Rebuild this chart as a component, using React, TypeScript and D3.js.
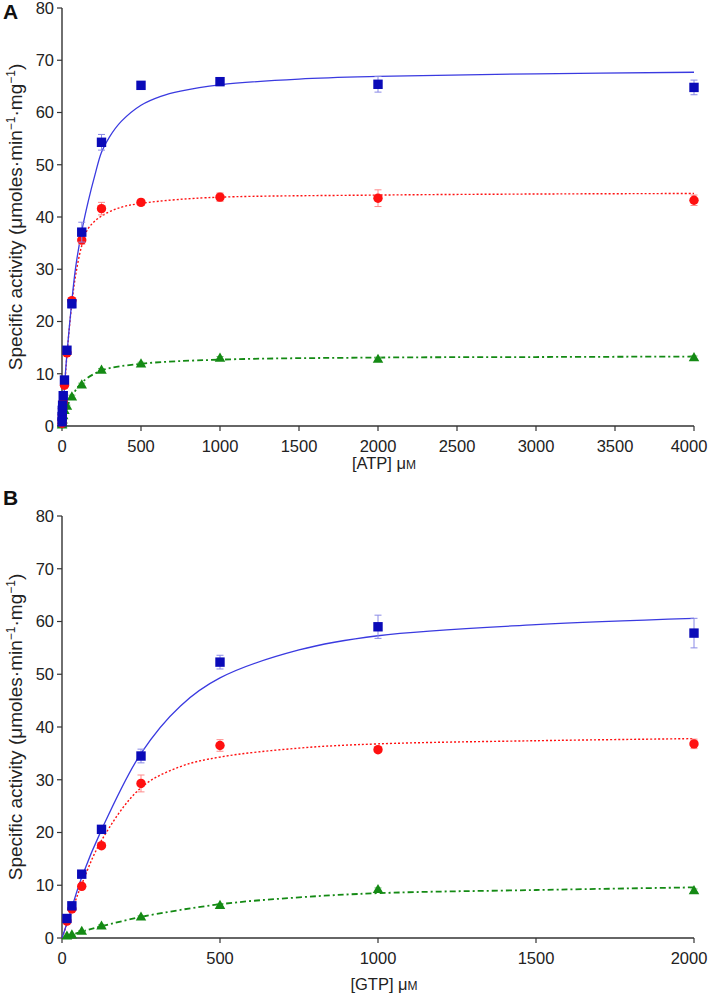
import React from "react";
import * as d3 from "d3";

// ---------- Panel A: ATP ----------
const ATP_X = [0.49, 0.98, 1.95, 3.9, 7.8, 15.6, 31.25, 62.5, 125, 250, 500, 1000, 2000, 4000];
const ATP_BLUE = [0.8, 1.8, 3.0, 4.0, 5.8, 8.8, 14.5, 23.4, 37.1, 54.3, 65.2, 65.9, 65.4, 64.8];
const ATP_BLUE_ERR = [0.3, 0.3, 0.3, 0.3, 0.5, 0.6, 0.6, 0.8, 1.9, 1.5, 0.5, 0.5, 1.5, 1.4];
const ATP_RED = [0.5, 1.2, 2.0, 3.4, 4.6, 7.8, 14.0, 24.0, 35.6, 41.6, 42.8, 43.8, 43.6, 43.2];
const ATP_RED_ERR = [0.2, 0.2, 0.2, 0.3, 0.3, 0.4, 0.5, 0.6, 0.8, 1.2, 0.6, 0.8, 1.6, 1.0];
const ATP_GREEN = [0.2, 0.4, 0.7, 1.2, 2.0, 3.0, 3.8, 5.6, 7.9, 10.7, 11.9, 13.0, 12.8, 13.1];
const ATP_GREEN_ERR = [0.1, 0.1, 0.1, 0.1, 0.2, 0.2, 0.2, 0.3, 0.3, 0.3, 0.3, 0.3, 0.3, 0.3];

const ATP_BLUE_FIT_X = [0, 15.6, 31.25, 62.5, 87, 125, 166, 209, 250, 300, 375, 500, 625, 750, 1000, 1500, 2000, 3000, 4000];
const ATP_BLUE_FIT_Y = [0, 7.5, 13.8, 24, 30.5, 37.3, 43, 48.1, 52.4, 55.3, 58.3, 61.4, 63.1, 64.1, 65.3, 66.4, 66.9, 67.4, 67.7];
const ATP_RED_FIT_X = [0, 15.6, 31.25, 62.5, 87, 125, 166, 251, 378, 500, 715, 1000, 2000, 3000, 4000];
const ATP_RED_FIT_Y = [0, 7, 13.5, 23.5, 29, 34.5, 37.8, 40.2, 41.9, 42.6, 43.3, 43.8, 44.2, 44.4, 44.5];
const ATP_GREEN_FIT_X = [0, 31.25, 62.5, 125, 250, 500, 1000, 2000, 3000, 4000];
const ATP_GREEN_FIT_Y = [0, 3.5, 5.6, 8.3, 10.6, 11.9, 12.7, 13.1, 13.2, 13.3];

const ATP_X_TICKS = [0, 500, 1000, 1500, 2000, 2500, 3000, 3500, 4000];

// ---------- Panel B: GTP ----------
const GTP_X = [15.6, 31.25, 62.5, 125, 250, 500, 1000, 2000];
const GTP_BLUE = [3.7, 6.1, 12.1, 20.6, 34.5, 52.3, 59.0, 57.8];
const GTP_BLUE_ERR = [0.3, 0.4, 0.6, 0.5, 1.3, 1.3, 2.2, 2.8];
const GTP_RED = [3.2, 5.5, 9.8, 17.5, 29.3, 36.5, 35.7, 36.8];
const GTP_RED_ERR = [0.2, 0.3, 0.5, 0.4, 1.6, 1.1, 0.5, 0.9];
const GTP_GREEN = [0.4, 0.6, 1.3, 2.3, 4.0, 6.2, 9.2, 9.0];
const GTP_GREEN_ERR = [0.1, 0.1, 0.1, 0.2, 0.2, 0.3, 0.3, 0.3];

const GTP_BLUE_FIT_X = [0, 15.6, 31.25, 62.5, 125, 250, 375, 500, 750, 1000, 1500, 2000];
const GTP_BLUE_FIT_Y = [0, 2.8, 5.8, 11.5, 20.5, 35, 44, 49.3, 54.6, 57.3, 59.4, 60.6];
const GTP_RED_FIT_X = [0, 15.6, 31.25, 62.5, 125, 250, 375, 500, 750, 1000, 1500, 2000];
const GTP_RED_FIT_Y = [0, 2.6, 5.2, 10.2, 18.5, 28.5, 32.5, 34.3, 36, 36.8, 37.4, 37.8];
const GTP_GREEN_FIT_X = [0, 62.5, 125, 250, 500, 750, 1000, 1500, 2000];
const GTP_GREEN_FIT_Y = [0, 1.2, 2.2, 4.0, 6.4, 7.7, 8.5, 9.1, 9.6];

const GTP_X_TICKS = [0, 500, 1000, 1500, 2000];
const Y_TICKS = [0, 10, 20, 30, 40, 50, 60, 70, 80];

const FONT = "'Liberation Sans', Arial, Helvetica, sans-serif";
const AXIS_COLOR = "#333";
const BLUE = "#0a0ab8";
const BLUE_LINE = "#3a3ae0";
const RED = "#ff1010";
const GREEN = "#148a14";

type Series = {
  x: number[];
  y: number[];
  err: number[];
  fitX: number[];
  fitY: number[];
  color: string;
  lineColor: string;
  errColor: string;
  dash: string;
  width: number;
  marker: "square" | "circle" | "triangle";
};

type PanelProps = {
  letter: string;
  letterY: number;
  top: number;
  bottom: number;
  xMax: number;
  xTicks: number[];
  xLabel: string;
  xLabelY: number;
  series: Series[];
};

function Marker({ kind, cx, cy, color }: { kind: string; cx: number; cy: number; color: string }) {
  if (kind === "square") return <rect x={cx - 4.7} y={cy - 4.7} width={9.4} height={9.4} fill={color} />;
  if (kind === "circle") return <circle cx={cx} cy={cy} r={4.7} fill={color} />;
  const s = 10.5;
  const h = s * 0.87;
  return (
    <path
      d={`M${cx},${cy - h * 0.6} L${cx + s / 2},${cy + h * 0.4} L${cx - s / 2},${cy + h * 0.4} Z`}
      fill={color}
    />
  );
}

function Panel({ letter, letterY, top, bottom, xMax, xTicks, xLabel, xLabelY, series }: PanelProps) {
  const left = 62;
  const right = 694;
  const x = d3.scaleLinear().domain([0, xMax]).range([left, right]);
  const y = d3.scaleLinear().domain([0, 80]).range([bottom, top]);
  const line = d3
    .line<[number, number]>()
    .x((d) => x(d[0]))
    .y((d) => y(d[1]))
    .curve(d3.curveCatmullRom.alpha(0.5));
  const midY = (top + bottom) / 2;
  return (
    <g>
      <text x={3} y={letterY} fontFamily={FONT} fontWeight="bold" fontSize={21} fill="#111">
        {letter}
      </text>
      {/* y axis */}
      <line x1={left} x2={left} y1={top} y2={bottom} stroke={AXIS_COLOR} strokeWidth={1.4} />
      {Y_TICKS.map((t) => (
        <g key={"y" + t}>
          <line x1={left - 5} x2={left} y1={y(t)} y2={y(t)} stroke={AXIS_COLOR} strokeWidth={1.2} />
          <text
            x={left - 8}
            y={y(t)}
            dy="0.35em"
            textAnchor="end"
            fontFamily={FONT}
            fontSize={16.5}
            fill="#222"
          >
            {t}
          </text>
        </g>
      ))}
      {/* x axis */}
      <line x1={left} x2={right} y1={bottom} y2={bottom} stroke={AXIS_COLOR} strokeWidth={1.4} />
      {xTicks.map((t) => (
        <g key={"x" + t}>
          <line x1={x(t)} x2={x(t)} y1={bottom} y2={bottom + 5} stroke={AXIS_COLOR} strokeWidth={1.2} />
          <text
            x={Math.min(x(t), 689)}
            y={bottom + 26}
            textAnchor="middle"
            fontFamily={FONT}
            fontSize={16.5}
            fill="#222"
          >
            {t}
          </text>
        </g>
      ))}
      <text x={(left + right) / 2 + 6} y={xLabelY} textAnchor="middle" fontFamily={FONT} fontSize={16.5} fill="#222">
        {xLabel} μ<tspan fontSize={12}>M</tspan>
      </text>
      <text
        transform={`translate(${22},${midY}) rotate(-90)`}
        textAnchor="middle"
        fontFamily={FONT}
        fontSize={19}
        fill="#222"
      >
        Specific activity (μmoles·min
        <tspan fontSize={12} dy={-7}>
          −1
        </tspan>
        <tspan dy={7}>·mg</tspan>
        <tspan fontSize={12} dy={-7}>
          −1
        </tspan>
        <tspan dy={7}>)</tspan>
      </text>
      {/* fit curves */}
      {series.map((s, i) => (
        <path
          key={"fit" + i}
          d={line(s.fitX.map((v, j) => [v, s.fitY[j]] as [number, number])) || ""}
          fill="none"
          stroke={s.lineColor}
          strokeWidth={s.width}
          strokeDasharray={s.dash}
        />
      ))}
      {/* error bars + markers */}
      {series.map((s, i) => (
        <g key={"pts" + i}>
          {s.x.map((v, j) => {
            const cx = x(v);
            const y1 = y(s.y[j] + s.err[j]);
            const y2 = y(s.y[j] - s.err[j]);
            return (
              <g key={j}>
                <line x1={cx} x2={cx} y1={y1} y2={y2} stroke={s.errColor} strokeWidth={1} />
                <line x1={cx - 3.5} x2={cx + 3.5} y1={y1} y2={y1} stroke={s.errColor} strokeWidth={1} />
                <line x1={cx - 3.5} x2={cx + 3.5} y1={y2} y2={y2} stroke={s.errColor} strokeWidth={1} />
              </g>
            );
          })}
          {s.x.map((v, j) => (
            <Marker key={"m" + j} kind={s.marker} cx={x(v)} cy={y(s.y[j])} color={s.color} />
          ))}
        </g>
      ))}
    </g>
  );
}

export default function App() {
  const atpSeries: Series[] = [
    {
      x: ATP_X, y: ATP_GREEN, err: ATP_GREEN_ERR, fitX: ATP_GREEN_FIT_X, fitY: ATP_GREEN_FIT_Y,
      color: GREEN, lineColor: GREEN, errColor: "#6fbf6f", dash: "6,3,2,3", width: 1.8, marker: "triangle",
    },
    {
      x: ATP_X, y: ATP_RED, err: ATP_RED_ERR, fitX: ATP_RED_FIT_X, fitY: ATP_RED_FIT_Y,
      color: RED, lineColor: RED, errColor: "#ff8a8a", dash: "2,2", width: 1.4, marker: "circle",
    },
    {
      x: ATP_X, y: ATP_BLUE, err: ATP_BLUE_ERR, fitX: ATP_BLUE_FIT_X, fitY: ATP_BLUE_FIT_Y,
      color: BLUE, lineColor: BLUE_LINE, errColor: "#8a8ae6", dash: "none", width: 1.3, marker: "square",
    },
  ];
  const gtpSeries: Series[] = [
    {
      x: GTP_X, y: GTP_GREEN, err: GTP_GREEN_ERR, fitX: GTP_GREEN_FIT_X, fitY: GTP_GREEN_FIT_Y,
      color: GREEN, lineColor: GREEN, errColor: "#6fbf6f", dash: "6,3,2,3", width: 1.8, marker: "triangle",
    },
    {
      x: GTP_X, y: GTP_RED, err: GTP_RED_ERR, fitX: GTP_RED_FIT_X, fitY: GTP_RED_FIT_Y,
      color: RED, lineColor: RED, errColor: "#ff8a8a", dash: "2,2", width: 1.4, marker: "circle",
    },
    {
      x: GTP_X, y: GTP_BLUE, err: GTP_BLUE_ERR, fitX: GTP_BLUE_FIT_X, fitY: GTP_BLUE_FIT_Y,
      color: BLUE, lineColor: BLUE_LINE, errColor: "#8a8ae6", dash: "none", width: 1.3, marker: "square",
    },
  ];
  return (
    <svg
      width={709}
      height={994}
      viewBox="0 0 709 994"
      style={{ position: "absolute", left: 0, top: 0, background: "#fff" }}
    >
      <rect width={709} height={994} fill="#fff" />
      <Panel letter="A" letterY={19} top={8} bottom={426} xMax={4000} xTicks={ATP_X_TICKS} xLabel="[ATP]" xLabelY={469} series={atpSeries} />
      <Panel letter="B" letterY={505} top={516} bottom={938} xMax={2000} xTicks={GTP_X_TICKS} xLabel="[GTP]" xLabelY={990} series={gtpSeries} />
    </svg>
  );
}
